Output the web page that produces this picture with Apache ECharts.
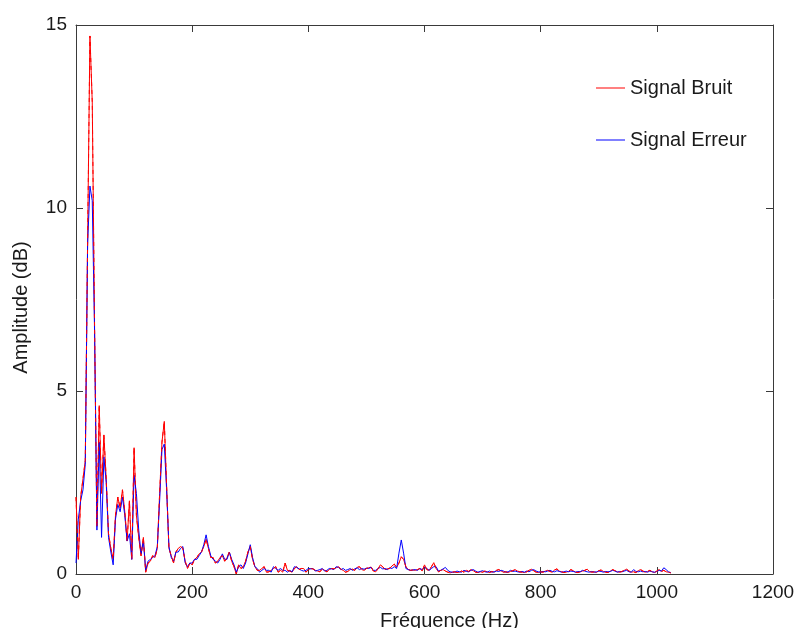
<!DOCTYPE html>
<html>
<head>
<meta charset="utf-8">
<script src="https://cdn.jsdelivr.net/npm/echarts@6/dist/echarts.min.js"></script>
<style>
  html, body { margin: 0; padding: 0; background: #ffffff; }
  #chart { width: 794px; height: 628px; }
</style>
</head>
<body>
<div id="chart"></div>
<script>
// Spectrum sample spacing (Hz); bin i sits at i * FREQ_STEP_HZ
const FREQ_STEP_HZ = 4;

// Amplitude spectrum of the noise signal (dB), bins 0 .. 1024 Hz
const signalBruit = [
  2.1, 0.4, 2.1, 2.6, 3.1, 9.1, 14.7, 12.9, 6.7, 1.3,
  4.6, 2.2, 3.8, 2.6, 1.1, 0.7, 0.4, 1.6, 2.1, 1.8,
  2.3, 1.7, 0.9, 2.0, 0.4, 3.45, 1.6, 1.0, 0.5, 1.0,
  0.05, 0.3, 0.35, 0.5, 0.45, 0.7, 2.2, 3.6, 4.17, 2.4,
  0.7, 0.5, 0.3, 0.6, 0.7, 0.75, 0.7, 0.35, 0.15, 0.3,
  0.25, 0.4, 0.45, 0.55, 0.6, 0.75, 0.95, 0.7, 0.45, 0.45,
  0.3, 0.35, 0.45, 0.5, 0.35, 0.45, 0.6, 0.35, 0.2, 0.0,
  0.25, 0.15, 0.2, 0.35, 0.6, 0.75, 0.4, 0.2, 0.1, 0.1,
  0.15, 0.2, 0.05, 0.06, 0.1, 0.15, 0.2, 0.05, 0.1, 0.05,
  0.3, 0.1, 0.08, 0.05, 0.15, 0.2, 0.12, 0.15, 0.15, 0.05,
  0.12, 0.15, 0.14, 0.1, 0.08, 0.06, 0.14, 0.1, 0.06, 0.12,
  0.15, 0.14, 0.17, 0.2, 0.13, 0.1, 0.05, 0.07, 0.12, 0.13,
  0.1, 0.18, 0.2, 0.12, 0.1, 0.15, 0.17, 0.19, 0.08, 0.06,
  0.14, 0.25, 0.2, 0.12, 0.14, 0.15, 0.22, 0.27, 0.18, 0.3,
  0.47, 0.4, 0.2, 0.12, 0.1, 0.11, 0.1, 0.12, 0.15, 0.08,
  0.25, 0.12, 0.1, 0.2, 0.31, 0.15, 0.06, 0.1, 0.12, 0.08,
  0.05, 0.03, 0.05,
  0.06, 0.04, 0.05, 0.08, 0.05, 0.1, 0.07, 0.12, 0.09, 0.05,
  0.04, 0.06, 0.05, 0.08, 0.06, 0.04, 0.07, 0.05, 0.1, 0.12,
  0.08, 0.05, 0.06, 0.04, 0.07, 0.09, 0.12, 0.08, 0.06, 0.05,
  0.04, 0.06, 0.1, 0.13, 0.09, 0.05, 0.04, 0.06, 0.05, 0.08,
  0.1, 0.07, 0.05, 0.11, 0.14, 0.08, 0.06, 0.04, 0.05, 0.07,
  0.12, 0.09, 0.05, 0.04, 0.06, 0.08, 0.1, 0.13, 0.07, 0.05,
  0.06, 0.04, 0.09, 0.11, 0.07, 0.05, 0.04, 0.08, 0.12, 0.09,
  0.06, 0.05, 0.07, 0.1, 0.13, 0.08, 0.05, 0.06, 0.04, 0.09,
  0.12, 0.08, 0.05, 0.07, 0.1, 0.06, 0.04, 0.08, 0.12, 0.07,
  0.1, 0.06, 0.05, 0.03
];

// Amplitude spectrum of the error signal (dB), same bins
const signalErreur = [
  0.3, 1.5, 2.0, 2.3, 3.0, 9.0, 10.6, 10.2, 6.6, 1.2,
  3.6, 1.0, 3.2, 2.5, 1.0, 0.6, 0.25, 1.5, 1.9, 1.7,
  2.1, 1.6, 0.9, 1.1, 0.4, 2.7, 2.2, 1.2, 0.55, 0.9,
  0.1, 0.35, 0.4, 0.45, 0.5, 0.75, 2.0, 3.4, 3.55, 2.3,
  0.75, 0.45, 0.35, 0.6, 0.6, 0.7, 0.75, 0.3, 0.2, 0.3,
  0.3, 0.4, 0.4, 0.5, 0.6, 0.8, 1.07, 0.75, 0.5, 0.4,
  0.35, 0.3, 0.4, 0.55, 0.4, 0.4, 0.6, 0.4, 0.25, 0.05,
  0.2, 0.25, 0.15, 0.3, 0.55, 0.8, 0.45, 0.2, 0.15, 0.05,
  0.1, 0.15, 0.1, 0.1, 0.05, 0.2, 0.15, 0.1, 0.15, 0.1,
  0.1, 0.05, 0.1, 0.06, 0.2, 0.18, 0.14, 0.1, 0.08, 0.1,
  0.15, 0.14, 0.15, 0.08, 0.1, 0.12, 0.15, 0.08, 0.1, 0.15,
  0.14, 0.12, 0.2, 0.18, 0.12, 0.15, 0.1, 0.12, 0.15, 0.1,
  0.14, 0.17, 0.12, 0.15, 0.13, 0.16, 0.15, 0.18, 0.1, 0.1,
  0.15, 0.18, 0.14, 0.15, 0.12, 0.17, 0.15, 0.2, 0.15, 0.57,
  0.93, 0.57, 0.15, 0.12, 0.1, 0.11, 0.12, 0.1, 0.15, 0.12,
  0.18, 0.15, 0.1, 0.15, 0.2, 0.2, 0.08, 0.1, 0.14, 0.18,
  0.1, 0.06, 0.05,
  0.05, 0.08, 0.06, 0.05, 0.1, 0.07, 0.06, 0.1, 0.12, 0.08,
  0.05, 0.07, 0.09, 0.06, 0.05, 0.08, 0.05, 0.06, 0.08, 0.07,
  0.1, 0.08, 0.05, 0.06, 0.1, 0.07, 0.08, 0.06, 0.05, 0.07,
  0.05, 0.08, 0.06, 0.1, 0.12, 0.08, 0.06, 0.05, 0.07, 0.06,
  0.08, 0.1, 0.07, 0.06, 0.09, 0.07, 0.05, 0.06, 0.08, 0.06,
  0.08, 0.07, 0.05, 0.07, 0.06, 0.1, 0.08, 0.06, 0.05, 0.07,
  0.05, 0.06, 0.08, 0.07, 0.05, 0.07, 0.06, 0.07, 0.1, 0.08,
  0.05, 0.07, 0.06, 0.08, 0.1, 0.06, 0.05, 0.12, 0.07, 0.06,
  0.08, 0.06, 0.07, 0.05, 0.08, 0.06, 0.05, 0.07, 0.1, 0.08,
  0.17, 0.12, 0.06, 0.04
];

const seriesNames = ['Signal Bruit', 'Signal Erreur'];
const xRange = { min: 0, max: 1200, interval: 200 };
const yRange = { min: 0, max: 15, interval: 5 };

const toPoints = (values) => values.map((v, i) => [i * FREQ_STEP_HZ, v]);

const AXIS_COLOR = '#3a3a3a';
const TEXT_COLOR = '#1a1a1a';
const FONT = "'Liberation Sans', Arial, Helvetica, sans-serif";

const boxAxis = {
  axisLine: { show: true, onZero: false, lineStyle: { color: AXIS_COLOR, width: 1 } },
  axisTick: { show: true, inside: true, length: 7, lineStyle: { color: AXIS_COLOR, width: 1 } },
  splitLine: { show: false }
};

const plainNumber = (v) => String(v);

const chart = echarts.init(document.getElementById('chart'), null, { renderer: 'canvas' });

chart.setOption({
  animation: false,
  backgroundColor: '#ffffff',
  grid: { left: 76, right: 21, top: 25, bottom: 54, containLabel: false, outerBoundsMode: 'none' },
  legend: {
    orient: 'vertical',
    left: 596,
    top: 78,
    padding: 0,
    icon: 'rect',
    itemWidth: 29,
    itemHeight: 1,
    itemGap: 32,
    data: seriesNames,
    textStyle: { color: TEXT_COLOR, fontSize: 20, fontFamily: FONT },
    selectedMode: false
  },
  xAxis: [
    Object.assign({}, boxAxis, {
      type: 'value', position: 'bottom',
      min: xRange.min, max: xRange.max, interval: xRange.interval,
      axisLabel: { color: TEXT_COLOR, fontSize: 19, fontFamily: FONT, margin: 9, formatter: plainNumber },
      name: 'Fréquence (Hz)',
      nameLocation: 'middle',
      nameGap: 37,
      nameTextStyle: { color: TEXT_COLOR, fontSize: 20, fontFamily: FONT, padding: [0, 0, 0, 50] }
    }),
    Object.assign({}, boxAxis, {
      type: 'value', position: 'top',
      min: xRange.min, max: xRange.max, interval: xRange.interval,
      axisLabel: { show: false }
    })
  ],
  yAxis: [
    Object.assign({}, boxAxis, {
      type: 'value', position: 'left',
      min: yRange.min, max: yRange.max, interval: yRange.interval,
      axisLabel: { color: TEXT_COLOR, fontSize: 19, fontFamily: FONT, margin: 9, formatter: plainNumber },
      name: 'Amplitude (dB)',
      nameLocation: 'middle',
      nameRotate: 90,
      nameGap: 45,
      nameTextStyle: { color: TEXT_COLOR, fontSize: 20, fontFamily: FONT, padding: [0, 16, 0, 0] }
    }),
    Object.assign({}, boxAxis, {
      type: 'value', position: 'right',
      min: yRange.min, max: yRange.max, interval: yRange.interval,
      axisLabel: { show: false }
    })
  ],
  series: [
    {
      name: seriesNames[0],
      type: 'line',
      xAxisIndex: 0, yAxisIndex: 0,
      data: toPoints(signalBruit),
      symbol: 'none',
      color: '#ff0000',
      lineStyle: { color: '#ff0000', width: 1 },
      z: 2
    },
    {
      name: seriesNames[1],
      type: 'line',
      xAxisIndex: 0, yAxisIndex: 0,
      data: toPoints(signalErreur),
      symbol: 'none',
      color: '#0000ff',
      lineStyle: { color: '#0000ff', width: 1 },
      z: 3
    },
    {
      // red dashes laid over the blue trace so overlapping stretches stay two-coloured
      name: seriesNames[0] + ' ',
      type: 'line',
      xAxisIndex: 0, yAxisIndex: 0,
      data: toPoints(signalBruit),
      symbol: 'none',
      silent: true,
      lineStyle: { color: '#ff0000', width: 1, type: [4, 4] },
      z: 4
    }
  ]
});
</script>
</body>
</html>
